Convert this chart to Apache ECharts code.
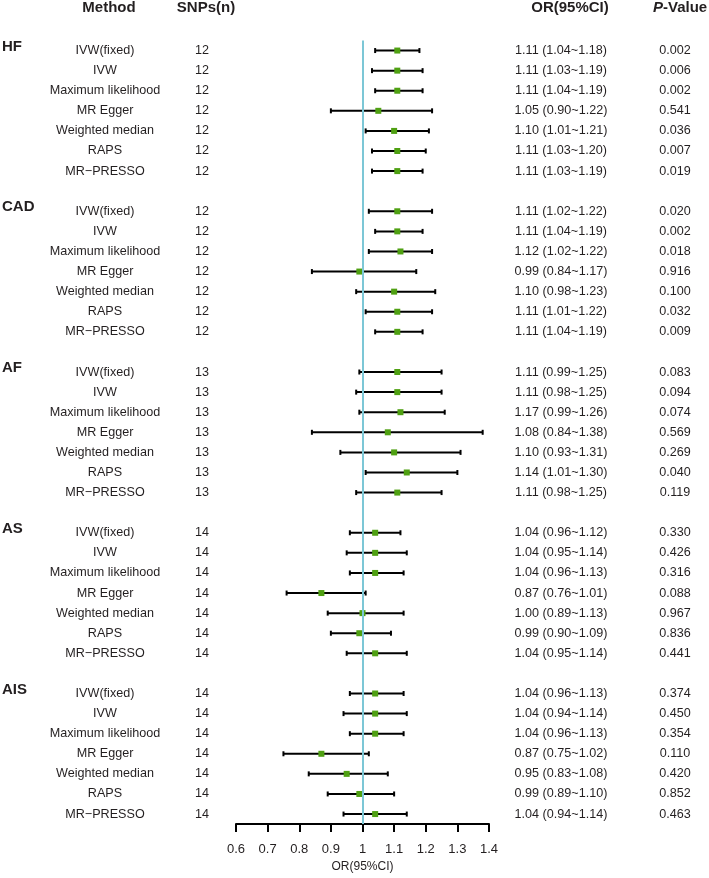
<!DOCTYPE html>
<html><head><meta charset="utf-8">
<script src="https://cdn.jsdelivr.net/npm/echarts@6/dist/echarts.min.js"></script>
<style>html,body{margin:0;padding:0;background:#fff}#c{width:709px;height:878px}</style>
</head><body><div id="c"></div>
<script>
const groups = ['HF', 'CAD', 'AF', 'AS', 'AIS'];
const methods = ['IVW(fixed)', 'IVW', 'Maximum likelihood', 'MR Egger', 'Weighted median', 'RAPS', 'MR\u2212PRESSO'];
const snps = [12, 12, 13, 14, 14];

const orHF  = [1.11, 1.11, 1.11, 1.05, 1.10, 1.11, 1.11];
const loHF  = [1.04, 1.03, 1.04, 0.90, 1.01, 1.03, 1.03];
const hiHF  = [1.18, 1.19, 1.19, 1.22, 1.21, 1.20, 1.19];
const pHF   = ['0.002', '0.006', '0.002', '0.541', '0.036', '0.007', '0.019'];
const ciHF  = ['1.11 (1.04~1.18)', '1.11 (1.03~1.19)', '1.11 (1.04~1.19)', '1.05 (0.90~1.22)', '1.10 (1.01~1.21)', '1.11 (1.03~1.20)', '1.11 (1.03~1.19)'];

const orCAD = [1.11, 1.11, 1.12, 0.99, 1.10, 1.11, 1.11];
const loCAD = [1.02, 1.04, 1.02, 0.84, 0.98, 1.01, 1.04];
const hiCAD = [1.22, 1.19, 1.22, 1.17, 1.23, 1.22, 1.19];
const pCAD  = ['0.020', '0.002', '0.018', '0.916', '0.100', '0.032', '0.009'];
const ciCAD = ['1.11 (1.02~1.22)', '1.11 (1.04~1.19)', '1.12 (1.02~1.22)', '0.99 (0.84~1.17)', '1.10 (0.98~1.23)', '1.11 (1.01~1.22)', '1.11 (1.04~1.19)'];

const orAF  = [1.11, 1.11, 1.12, 1.08, 1.10, 1.14, 1.11];
const loAF  = [0.99, 0.98, 0.99, 0.84, 0.93, 1.01, 0.98];
const hiAF  = [1.25, 1.25, 1.26, 1.38, 1.31, 1.30, 1.25];
const pAF   = ['0.083', '0.094', '0.074', '0.569', '0.269', '0.040', '0.119'];
const ciAF  = ['1.11 (0.99~1.25)', '1.11 (0.98~1.25)', '1.17 (0.99~1.26)', '1.08 (0.84~1.38)', '1.10 (0.93~1.31)', '1.14 (1.01~1.30)', '1.11 (0.98~1.25)'];

const orAS  = [1.04, 1.04, 1.04, 0.87, 1.00, 0.99, 1.04];
const loAS  = [0.96, 0.95, 0.96, 0.76, 0.89, 0.90, 0.95];
const hiAS  = [1.12, 1.14, 1.13, 1.01, 1.13, 1.09, 1.14];
const pAS   = ['0.330', '0.426', '0.316', '0.088', '0.967', '0.836', '0.441'];
const ciAS  = ['1.04 (0.96~1.12)', '1.04 (0.95~1.14)', '1.04 (0.96~1.13)', '0.87 (0.76~1.01)', '1.00 (0.89~1.13)', '0.99 (0.90~1.09)', '1.04 (0.95~1.14)'];

const orAIS = [1.04, 1.04, 1.04, 0.87, 0.95, 0.99, 1.04];
const loAIS = [0.96, 0.94, 0.96, 0.75, 0.83, 0.89, 0.94];
const hiAIS = [1.13, 1.14, 1.13, 1.02, 1.08, 1.10, 1.14];
const pAIS  = ['0.374', '0.450', '0.354', '0.110', '0.420', '0.852', '0.463'];
const ciAIS = ['1.04 (0.96~1.13)', '1.04 (0.94~1.14)', '1.04 (0.96~1.13)', '0.87 (0.75~1.02)', '0.95 (0.83~1.08)', '0.99 (0.89~1.10)', '1.04 (0.94~1.14)'];

const xTicks = [0.6, 0.7, 0.8, 0.9, 1.0, 1.1, 1.2, 1.3, 1.4];
const headers = ['Method', 'SNPs(n)', 'OR(95%CI)', 'P', '-Value'];

const orAll = [orHF, orCAD, orAF, orAS, orAIS];
const loAll = [loHF, loCAD, loAF, loAS, loAIS];
const hiAll = [hiHF, hiCAD, hiAF, hiAS, hiAIS];
const pAll  = [pHF, pCAD, pAF, pAS, pAIS];
const ciAll = [ciHF, ciCAD, ciAF, ciAS, ciAIS];

const FONT = '"Liberation Sans", Arial, Helvetica, sans-serif';
const TXT = '#231f20';
const rowsPerGroup = 8;

const forestData = [];
const textData = [];
groups.forEach((g, gi) => {
  methods.forEach((m, mi) => {
    const row = gi * rowsPerGroup + mi;
    forestData.push([orAll[gi][mi], loAll[gi][mi], hiAll[gi][mi], row]);
    textData.push({ value: [1, row], gi: gi, mi: mi });
  });
});
const groupData = groups.map((g, gi) => [1, gi * rowsPerGroup]);

const hdr = (x, t, f, align) => ({ type: 'text', x: x, y: 8,
  style: { text: t, font: f, fill: TXT, align: align || 'center', verticalAlign: 'middle' } });

const chart = echarts.init(document.getElementById('c'));
const option = {
  animation: false,
  backgroundColor: '#ffffff',
  grid: { left: 236, right: 220, top: 40.5, bottom: 47, containLabel: false },
  xAxis: {
    type: 'value', min: xTicks[0], max: xTicks[xTicks.length - 1], interval: 0.1, position: 'bottom',
    name: 'OR(95%CI)', nameLocation: 'middle', nameGap: 32,
    nameTextStyle: { color: TXT, fontSize: 12, fontFamily: FONT },
    axisLine: { show: true, onZero: false, lineStyle: { color: '#000', width: 2 } },
    axisTick: { show: true, length: 8, lineStyle: { color: '#000', width: 2 } },
    axisLabel: { color: TXT, fontSize: 13, fontFamily: FONT, margin: 19,
      formatter: v => (Math.abs(v - 1) < 1e-9 ? '1' : (+v.toFixed(1)).toString()) },
    splitLine: { show: false }
  },
  yAxis: { type: 'value', min: -0.5, max: 38.5, inverse: true, show: false },
  graphic: [
    hdr(109, headers[0], 'bold 15px ' + FONT),
    hdr(206, headers[1], 'bold 15px ' + FONT),
    hdr(570, headers[2], 'bold 15px ' + FONT),
    hdr(653, headers[3], 'italic bold 15px ' + FONT, 'left'),
    hdr(663, headers[4], 'bold 15px ' + FONT, 'left')
  ],
  series: [
    {
      type: 'line', data: [], z: 1,
      markLine: { silent: true, symbol: 'none', label: { show: false },
        lineStyle: { color: '#7cc7d6', width: 2, type: 'solid' },
        data: [{ xAxis: 1 }] }
    },
    {
      type: 'custom', z: 2, clip: false,
      data: forestData,
      renderItem: (params, api) => {
        const row = api.value(3);
        const c = api.coord([api.value(0), row]);
        const l = api.coord([api.value(1), row]);
        const h = api.coord([api.value(2), row]);
        const s = 6, cap = 2.5;
        const st = { stroke: '#000', lineWidth: 2 };
        return { type: 'group', children: [
          { type: 'line', shape: { x1: l[0], y1: l[1], x2: h[0], y2: h[1] }, style: st },
          { type: 'line', shape: { x1: l[0], y1: l[1] - cap, x2: l[0], y2: l[1] + cap }, style: st },
          { type: 'line', shape: { x1: h[0], y1: h[1] - cap, x2: h[0], y2: h[1] + cap }, style: st },
          { type: 'rect', shape: { x: c[0] - s / 2, y: c[1] - s / 2, width: s, height: s }, style: { fill: '#4fa012' } }
        ] };
      }
    },
    {
      type: 'custom', z: 3, clip: false,
      data: textData.map(d => d.value),
      renderItem: (params, api) => {
        const d = textData[params.dataIndex];
        const y = api.coord([1, api.value(1)])[1];
        const mk = (x, t) => ({ type: 'text', x: x, y: y,
          style: { text: t, font: '12.6px ' + FONT, fill: TXT, align: 'center', verticalAlign: 'middle' } });
        return { type: 'group', children: [
          mk(105, methods[d.mi]),
          mk(202, String(snps[d.gi])),
          mk(561, ciAll[d.gi][d.mi]),
          mk(675, pAll[d.gi][d.mi])
        ] };
      }
    },
    {
      type: 'custom', z: 3, clip: false,
      data: groupData,
      renderItem: (params, api) => {
        const y = api.coord([1, api.value(1)])[1] - 4;
        return { type: 'text', x: 2, y: y,
          style: { text: groups[params.dataIndex], font: 'bold 15px ' + FONT, fill: TXT, align: 'left', verticalAlign: 'middle' } };
      }
    }
  ]
};
chart.setOption(option);
</script>
</body></html>
